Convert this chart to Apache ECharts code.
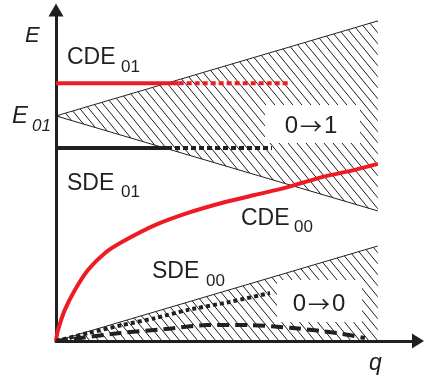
<!DOCTYPE html>
<html>
<head>
<meta charset="utf-8">
<script src="https://cdn.jsdelivr.net/npm/echarts@6/dist/echarts.min.js"></script>
<style>
  html, body { margin: 0; padding: 0; background: #fff; }
  #chart { width: 424px; height: 380px; }
</style>
</head>
<body>
<div id="chart"></div>
<script>
// Continuum bands in (q, E): apex and right-hand end of each wedge edge
const upperBandTop = [[0, 6.8], [8, 9.67]];
const upperBandBottom = [[0, 6.8], [8, 3.93]];
const lowerBandTop = [[0, 0], [8, 2.87]];
const lowerBandBottom = [[0, 0], [8, 0]];

// CDE01 level: bound part, then the part inside the band
const cde01Bound = [[0, 7.79], [3.05, 7.79]];
const cde01InBand = [[3.05, 7.79], [5.76, 7.79]];
// SDE01 level
const sde01Bound = [[0, 5.83], [2.76, 5.83]];
const sde01InBand = [[2.76, 5.83], [5.37, 5.83]];

// CDE00 dispersion
const cde00 = [
  [0, 0], [0.05, 0.33], [0.22, 0.94], [0.47, 1.54], [0.8, 2.15], [1.22, 2.66],
  [1.64, 2.99], [2.46, 3.5], [3.28, 3.87], [4.12, 4.17], [4.94, 4.41],
  [5.76, 4.65], [6.61, 4.95], [7.43, 5.17], [8.0, 5.35]
];
// SDE00 dispersion (inside the lower band)
const sde00 = [
  [0, 0], [0.8, 0.24], [1.64, 0.48], [2.46, 0.69], [3.28, 0.94], [4.32, 1.18], [5.32, 1.45]
];
// 0 -> 0 transition curve
const transition00 = [
  [0, 0], [0.6, 0.09], [1.59, 0.24], [2.71, 0.36], [3.75, 0.48], [4.82, 0.48],
  [5.89, 0.39], [6.98, 0.24], [7.68, 0.09]
];

const INK = '#231f20';
const RED = '#ed1c24';
const FONT = '"Liberation Sans", Arial, sans-serif';
const ARROW_FONT = '"Noto Sans CJK JP", "DejaVu Sans", sans-serif';

// diagonal hatch tile, lines running down to the right
function hatchTile(w, h) {
  const c = document.createElement('canvas');
  c.width = w; c.height = h;
  const g = c.getContext('2d');
  g.strokeStyle = INK;
  g.lineWidth = 1;
  g.beginPath();
  for (let k = -1; k <= 1; k++) {
    g.moveTo(k * w, 0);
    g.lineTo(k * w + w, h);
  }
  g.stroke();
  return c;
}
const hatch = { image: hatchTile(9, 11), repeat: 'repeat' };

const bands = [
  upperBandTop.concat(upperBandBottom.slice().reverse()),
  lowerBandTop.concat(lowerBandBottom.slice().reverse())
];

function lineSeries(data, color, width, type, z) {
  return {
    type: 'line', data: data, showSymbol: false, silent: true, z: z || 3,
    lineStyle: { color: color, width: width, type: type || 'solid', cap: 'butt' }
  };
}

function text(str, x, y, size, opts) {
  opts = opts || {};
  return {
    type: 'text', x: x, y: y, z: 110, silent: true,
    style: {
      text: str, fill: INK,
      font: (opts.italic ? 'italic ' : '') + size + 'px ' + FONT,
      align: opts.align || 'left', verticalAlign: 'middle'
    }
  };
}
// "from -> to" transition tag
function transition(from, to, cx, cy) {
  return {
    type: 'text', x: cx, y: cy, z: 110, silent: true,
    style: {
      text: '{d|' + from + '}{a|\u2192}{d|' + to + '}',
      align: 'center', verticalAlign: 'middle',
      rich: {
        d: { fontFamily: FONT, fontSize: 24, fill: INK },
        a: { fontFamily: ARROW_FONT, fontSize: 22, fill: INK, padding: [0, 2, 0, 2] }
      }
    }
  };
}
function box(x, y, w, h) {
  return { type: 'rect', z: 105, silent: true, shape: { x: x, y: y, width: w, height: h }, style: { fill: '#fff' } };
}

const chart = echarts.init(document.getElementById('chart'), null, { renderer: 'canvas' });
const axisCommon = {
  type: 'value', min: 0,
  splitLine: { show: false }, axisTick: { show: false }, axisLabel: { show: false }
};
chart.setOption({
  animation: false,
  grid: { left: 56, right: 6, top: 10, bottom: 39 },
  xAxis: Object.assign({}, axisCommon, {
    max: 9,
    axisLine: { show: true, symbol: ['none', 'triangle'], symbolSize: [15, 12], lineStyle: { color: INK, width: 3 } }
  }),
  yAxis: Object.assign({}, axisCommon, {
    max: 10,
    axisLine: { show: true, symbol: ['none', 'triangle'], symbolSize: [15, 13], lineStyle: { color: INK, width: 3 } }
  }),
  series: [
    {
      type: 'custom', silent: true, z: 1,
      data: bands.map(function (_, i) { return [i]; }),
      renderItem: function (params, api) {
        const pts = bands[params.dataIndex].map(function (p) { return api.coord(p); });
        return { type: 'polygon', shape: { points: pts }, style: { fill: hatch, stroke: null } };
      }
    },
    lineSeries(upperBandTop, INK, 1, 'solid', 2),
    lineSeries(upperBandBottom, INK, 1, 'solid', 2),
    lineSeries(lowerBandTop, INK, 1, 'solid', 2),
    lineSeries(cde01Bound, RED, 4),
    lineSeries(cde01InBand, RED, 4, [5, 3]),
    lineSeries(sde01Bound, INK, 4),
    lineSeries(sde01InBand, INK, 4, [5, 3]),
    Object.assign(lineSeries(cde00, RED, 4), { smooth: 0.25 }),
    Object.assign(lineSeries(sde00, INK, 4, [4, 3]), { smooth: 0.25 }),
    Object.assign(lineSeries(transition00, INK, 4, [12, 6]), { smooth: 0.3 })
  ],
  graphic: [
    text('E', 25, 35.5, 22, { italic: true }),
    text('E', 12, 116, 24, { italic: true }),
    text('01', 32, 126, 17, { italic: true }),
    text('CDE', 67, 58, 23),
    text('01', 121, 67, 17),
    text('SDE', 67, 183.5, 23),
    text('01', 121, 192.5, 17),
    text('CDE', 241, 218.5, 23),
    text('00', 294, 227.5, 17),
    text('SDE', 152, 271.5, 23),
    text('00', 206, 281, 17),
    box(265, 105, 95, 38),
    transition('0', '1', 311, 126),
    box(277, 280, 85, 42),
    transition('0', '0', 319, 304),
    text('q', 369, 364, 23, { italic: true })
  ]
});
</script>
</body>
</html>
